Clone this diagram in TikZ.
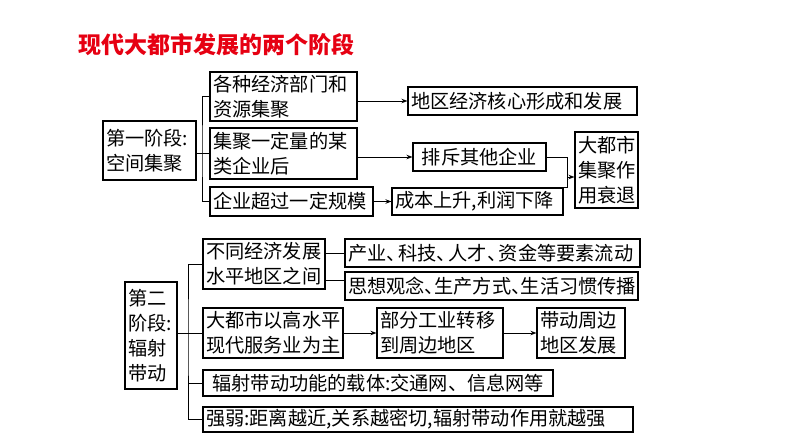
\documentclass[tikz,border=0pt]{standalone}
\usepackage{fontspec}
\newfontfamily\cjk{Noto Sans CJK SC}
\usetikzlibrary{arrows.meta}
\definecolor{titlered}{RGB}{230,0,18}
\newcommand{\hdun}{\makebox[0.5em][l]{、}}
\newcommand{\mdun}{\makebox[0.62em][l]{、}}
\tikzset{
	box/.style 2 args={draw, line width=1.1pt, inner xsep=3pt, inner ysep=0pt,
		text width=#1pt, minimum height=#2pt, align=left,
		font=\cjk\fontsize{19.2}{25}\selectfont},
	link/.style={line width=1pt},
	arr/.style={line width=1pt, -{Stealth[length=6pt,width=4.5pt]}}
}

\begin{document}
\begin{tikzpicture}[x=1pt, y=-1pt]
			%%%%% START %%%%%
			\useasboundingbox (0, 0) rectangle (794, 447);
			
			\node[font=\cjk\bfseries\fontsize{23}{23}\selectfont, text=titlered, inner sep=0pt] (title) at (216.5, 45) {现代大都市发展的两个阶段};
			
			% first stage
			\node[box={87}{59}] (s1) at (149.5, 150.5) {第一阶段:\\空间集聚};
			\node[box={141}{49}] (a1) at (283.5, 96.5) {各种经济部门和\\资源集聚};
			\node[box={141}{51}] (a2) at (283.5, 153.5) {集聚一定量的某\\类企业后};
			\node[box={157}{29}] (a3) at (291.5, 201.5) {企业超过一定规模};
			\node[box={223}{28}] (b1) at (522.5, 101) {地区经济核心形成和发展};
			\node[box={127}{28}, align=center] (b2) at (479.5, 157) {排斥其他企业};
			\node[box={165}{27}] (b3) at (477.5, 201.5) {成本上升,利润下降};
			\node[box={57}{76}] (c1) at (606.5, 170) {大都市\\集聚作\\用衰退};
			
			\coordinate (t1) at (202, 153);
			\coordinate (j1) at (567, 177);
			\draw[link] (s1.east |- t1) -- (t1);
			\draw[link] (a1.west) -| (t1) |- (a3.west);
			\draw[link] (a2.west) -- (a2.west -| t1);
			\draw[arr] (a1.east |- b1.west) -- (b1.west);
			\draw[arr] (a2.east |- b2.west) -- (b2.west);
			\draw[arr] (a3.east) -- (b3.west);
			\draw[link] (b2.east) -| (j1);
			\draw[link] (b3.north east) -| (j1);
			\draw[arr] (j1) -- (j1 -| c1.west);
			
			% second stage
			\node[box={46}{107}] (s2) at (151, 335.5) {第二\\阶段:\\辐射\\带动};
			\node[box={116}{50}] (d1) at (264, 264) {不同经济发展\\水平地区之间};
			\node[box={134}{50}] (e1) at (273, 333) {大都市以高水平\\现代服务业为主};
			\node[box={344}{26}] (f1) at (378, 383) {\ 辐射带动功能的载体:交通网、信息网等};
			\node[box={424}{25}] (g1) at (418, 419.5) {强弱:距离越近,关系越密切,辐射带动作用就越强};
			\node[box={289}{28}] (h1) at (492.5, 253) {产业\mdun 科技\mdun 人才\mdun 资金等要素流动};
			\node[box={287}{28}] (h2) at (491.5, 286) {思想观念\hdun 生产方式\hdun 生活习惯传播};
			\node[box={120}{50}] (i1) at (440, 333) {部分工业转移\\到周边地区};
			\node[box={82}{50}] (k1) at (581, 333) {带动周边\\地区发展};
			
			\coordinate (t2) at (188, 333);
			\draw[link] (s2.east |- t2) -- (t2);
			\draw[link] (d1.west) -| (t2) |- (g1.west);
			\draw[link] (e1.west) -- (e1.west -| t2);
			\draw[link] (f1.west) -- (f1.west -| t2);
			\draw[link] (d1.east |- h1.west) -- (h1.west);
			\draw[link] (d1.east |- 0, 280) -- (h2.west |- 0, 280);
			\draw[arr] (e1.east) -- (i1.west);
			\draw[arr] (i1.east) -- (k1.west);
			%%%%% END %%%%%
\end{tikzpicture}
\end{document}
